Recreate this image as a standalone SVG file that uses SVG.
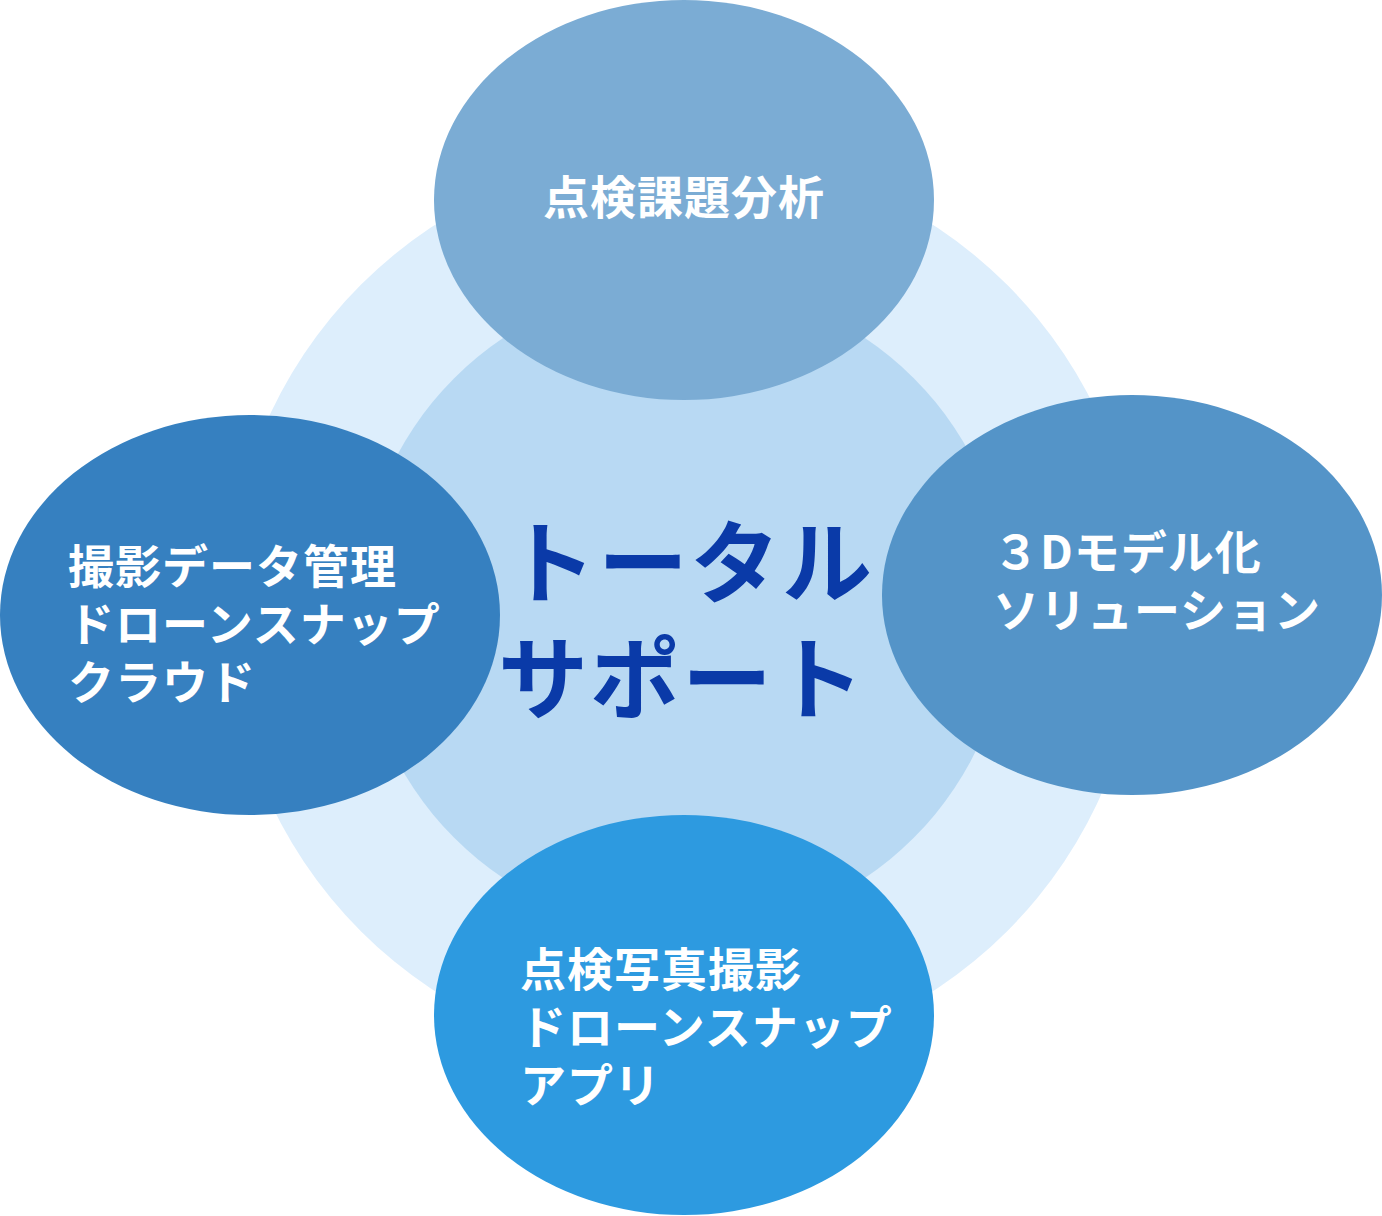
<svg xmlns="http://www.w3.org/2000/svg" width="1382" height="1216" viewBox="0 0 1382 1216">
<style>
.l{font-family:"Noto Sans CJK JP","Noto Sans",sans-serif;font-weight:bold;font-size:46px;fill:#fff;letter-spacing:1px}
.c{font-family:"Noto Sans CJK JP","Noto Sans",sans-serif;font-weight:bold;font-size:90px;fill:#0a3aa8;letter-spacing:2px}
</style>
<rect width="1382" height="1216" fill="#fff"/>
<g id="bg">
<circle cx="684" cy="608" r="457" fill="#ddeefc"/>
<circle cx="684" cy="608" r="325" fill="#b8d9f3"/>
</g>
<g id="center"><text class="c" x="506" y="596">トータル</text><text class="c" x="498" y="712">サポート</text></g>
<g id="n1"><ellipse cx="684" cy="200" rx="250" ry="200" fill="#7bacd4"/><text class="l" x="684" y="214" text-anchor="middle">点検課題分析</text></g>
<g id="n2"><ellipse cx="1132" cy="595" rx="250" ry="200" fill="#5494c8"/><text class="l" x="993" y="569">３Dモデル化</text><text class="l" x="993" y="627">ソリューション</text></g>
<g id="n3"><ellipse cx="250" cy="615" rx="250" ry="200" fill="#3680c0"/><text class="l" x="68" y="583">撮影データ管理</text><text class="l" x="68" y="641">ドローンスナップ</text><text class="l" x="68" y="699">クラウド</text></g>
<g id="n4"><ellipse cx="684" cy="1015" rx="250" ry="200" fill="#2d9ae0"/><text class="l" x="520" y="986">点検写真撮影</text><text class="l" x="520" y="1044">ドローンスナップ</text><text class="l" x="520" y="1102">アプリ</text></g>
<g id="connectors"/>
</svg>
